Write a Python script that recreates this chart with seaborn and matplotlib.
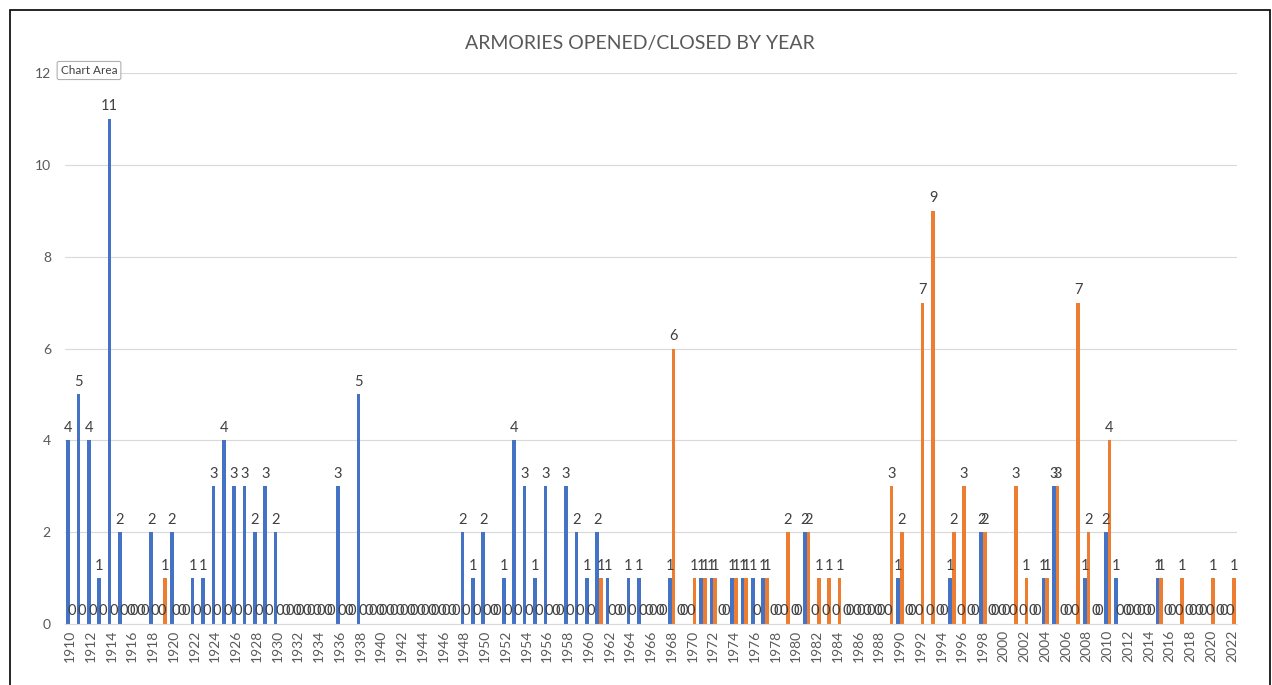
import matplotlib
matplotlib.use("Agg")
import matplotlib.pyplot as plt
from matplotlib.patches import Rectangle
import seaborn as sns
import pandas as pd

years = list(range(1910, 2023))

opened = [
    4, 5, 4, 1, 11, 2, 0, 0, 2, 0,   # 1910s
    2, 0, 1, 1, 3, 4, 3, 3, 2, 3,    # 1920s
    2, 0, 0, 0, 0, 0, 3, 0, 5, 0,    # 1930s
    0, 0, 0, 0, 0, 0, 0, 0, 2, 1,    # 1940s
    2, 0, 1, 4, 3, 1, 3, 0, 3, 2,    # 1950s
    1, 2, 1, 0, 1, 1, 0, 0, 1, 0,    # 1960s
    0, 1, 1, 0, 1, 1, 1, 1, 0, 0,    # 1970s
    0, 2, 0, 0, 0, 0, 0, 0, 0, 0,    # 1980s
    1, 0, 0, 0, 0, 1, 0, 0, 2, 0,    # 1990s
    0, 0, 0, 0, 1, 3, 0, 0, 1, 0,    # 2000s
    2, 1, 0, 0, 0, 1, 0, 0, 0, 0,    # 2010s
    0, 0, 0,                         # 2020-2022
]

closed = [
    0, 0, 0, 0, 0, 0, 0, 0, 0, 1,    # 1910s
    0, 0, 0, 0, 0, 0, 0, 0, 0, 0,    # 1920s
    0, 0, 0, 0, 0, 0, 0, 0, 0, 0,    # 1930s
    0, 0, 0, 0, 0, 0, 0, 0, 0, 0,    # 1940s
    0, 0, 0, 0, 0, 0, 0, 0, 0, 0,    # 1950s
    0, 1, 0, 0, 0, 0, 0, 0, 6, 0,    # 1960s
    1, 1, 1, 0, 1, 1, 0, 1, 0, 2,    # 1970s
    0, 2, 1, 1, 1, 0, 0, 0, 0, 3,    # 1980s
    2, 0, 7, 9, 0, 2, 3, 0, 2, 0,    # 1990s
    0, 3, 1, 0, 1, 3, 0, 7, 2, 0,    # 2000s
    4, 0, 0, 0, 0, 1, 0, 1, 0, 0,    # 2010s
    1, 0, 1,                         # 2020-2022
]

series_names = ["Opened", "Closed"]
title = "ARMORIES OPENED/CLOSED BY YEAR"
colors = ["#4472C4", "#ED7D31"]

df = pd.DataFrame({
    "Year": [str(y) for y in years] * 2,
    "Count": opened + closed,
    "Series": [series_names[0]] * len(years) + [series_names[1]] * len(years),
})

sns.set_style("white")
plt.rcParams["font.family"] = ["Lato", "DejaVu Sans"]

W, H = 1272, 685
fig = plt.figure(figsize=(W / 100, H / 100), dpi=100)
left_px, right_px, top_px, bot_px = 64.8, 1237.2, 73, 624
ax = fig.add_axes([left_px / W, 1 - bot_px / H,
                   (right_px - left_px) / W, (bot_px - top_px) / H])

sns.barplot(data=df, x="Year", y="Count", hue="Series",
            order=[str(y) for y in years], hue_order=series_names,
            palette=colors, width=0.72, ax=ax, legend=False,
            errorbar=None, saturation=1, linewidth=0)

text_color = "#595959"
for cont in ax.containers:
    ax.bar_label(cont, fmt="%g", padding=4, fontsize=10.5, color="#404040")

ax.set_ylim(0, 12)
ax.set_yticks(range(0, 13, 2))
ax.set_xlim(-0.5, len(years) - 0.5)
ax.set_xticks(range(0, len(years), 2))
ax.set_xticklabels([str(y) for y in years[::2]], rotation=90, fontsize=10,
                   color=text_color)
ax.tick_params(axis="y", labelsize=10, colors=text_color, length=0, pad=10)
ax.tick_params(axis="x", length=0, pad=4)
ax.set_xlabel("")
ax.set_ylabel("")
ax.grid(axis="y", color="#D9D9D9", linewidth=0.8)
ax.set_axisbelow(True)
for s in ["top", "right", "left"]:
    ax.spines[s].set_visible(False)
ax.spines["bottom"].set_color("#D9D9D9")

fig.text(640 / W, 1 - 43 / H, title, ha="center", va="center",
         fontsize=14, color=text_color)

# chart area border
fig.patches.append(Rectangle((10 / W, -0.02), 1260 / W, 1 - 10 / H + 0.02,
                             transform=fig.transFigure, fill=False,
                             edgecolor="black", linewidth=1.2))

# "Chart Area" tooltip
fig.text(89 / W, 1 - 70.5 / H, "Chart Area", ha="center", va="center",
         fontsize=8.5, color="#404040",
         bbox=dict(boxstyle="round,pad=0.3,rounding_size=0.15",
                   facecolor="white", edgecolor="#B0B0B0", linewidth=0.8))

fig.savefig("out.png", dpi=100)
